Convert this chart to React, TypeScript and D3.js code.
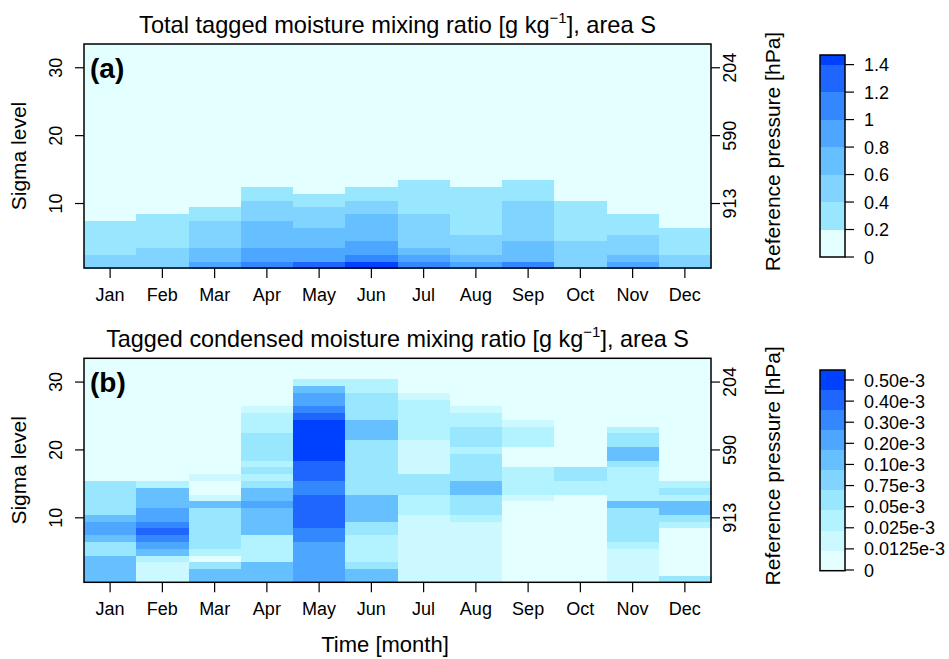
import React from "react";
import * as d3 from "d3";

// months on the x axis
const months = ["Jan", "Feb", "Mar", "Apr", "May", "Jun", "Jul", "Aug", "Sep", "Oct", "Nov", "Dec"];
const nLevels = 33;

// right axis: sigma level -> reference pressure
const pressureLevels = [10, 20, 30];
const pressureLabels = ["913", "590", "204"];

// (a) total tagged moisture [g/kg], sigma level 1 upwards (missing = 0)
const totJan = [0.52, 0.48, 0.33, 0.31, 0.3, 0.28, 0.25];
const totFeb = [0.55, 0.5, 0.45, 0.35, 0.32, 0.3, 0.28, 0.24];
const totMar = [0.92, 0.75, 0.7, 0.55, 0.52, 0.48, 0.45, 0.35, 0.3];
const totApr = [1.1, 0.95, 0.9, 0.75, 0.72, 0.68, 0.65, 0.55, 0.5, 0.45, 0.35, 0.3];
const totMay = [1.32, 0.95, 0.88, 0.75, 0.7, 0.65, 0.55, 0.5, 0.45, 0.35, 0.3];
const totJun = [1.45, 1.1, 0.92, 0.85, 0.75, 0.72, 0.68, 0.65, 0.55, 0.45, 0.35, 0.3];
const totJul = [1.1, 0.9, 0.7, 0.55, 0.52, 0.5, 0.48, 0.45, 0.38, 0.35, 0.32, 0.3, 0.25];
const totAug = [0.9, 0.7, 0.55, 0.5, 0.45, 0.38, 0.35, 0.33, 0.32, 0.3, 0.28, 0.25];
const totSep = [1.1, 0.75, 0.7, 0.65, 0.55, 0.52, 0.5, 0.48, 0.45, 0.42, 0.35, 0.3, 0.25];
const totOct = [0.55, 0.52, 0.5, 0.45, 0.38, 0.35, 0.33, 0.3, 0.28, 0.25];
const totNov = [0.9, 0.7, 0.55, 0.5, 0.45, 0.35, 0.3, 0.25];
const totDec = [0.5, 0.45, 0.38, 0.35, 0.3, 0.25];

// (b) tagged condensed moisture [1e-3 g/kg]
const conJan = [0.15, 0.15, 0.14, 0.13, 0.06, 0.06, 0.12, 0.25, 0.26, 0.15, 0.07, 0.065, 0.06, 0.06, 0.055];
const conFeb = [0.02, 0.018, 0.02, 0.04, 0.15, 0.25, 0.35, 0.45, 0.35, 0.26, 0.24, 0.15, 0.14, 0.13, 0.035];
const conMar = [0.15, 0.14, 0.06, 0.008, 0.04, 0.065, 0.06, 0.06, 0.062, 0.065, 0.06, 0.14, 0.02, 0.006, 0.007, 0.018];
const conApr = [
  0.15, 0.16, 0.14, 0.035, 0.04, 0.04, 0.045, 0.13, 0.15, 0.14, 0.16, 0.22, 0.15, 0.13, 0.06, 0.04,
  0.06, 0.04, 0.065, 0.06, 0.06, 0.055, 0.04, 0.035, 0.03, 0.02,
];
const conMay = [
  0.25, 0.26, 0.27, 0.25, 0.24, 0.25, 0.32, 0.35, 0.45, 0.44, 0.46, 0.45, 0.42, 0.35, 0.38, 0.42,
  0.44, 0.45, 0.55, 0.56, 0.58, 0.55, 0.53, 0.52, 0.45, 0.35, 0.25, 0.22, 0.15, 0.04,
];
const conJun = [
  0.15, 0.14, 0.06, 0.04, 0.035, 0.04, 0.04, 0.06, 0.065, 0.14, 0.15, 0.13, 0.12, 0.06, 0.06, 0.065,
  0.06, 0.06, 0.055, 0.06, 0.06, 0.12, 0.15, 0.13, 0.065, 0.06, 0.06, 0.055, 0.04, 0.035,
];
const conJul = [
  0.02, 0.02, 0.018, 0.02, 0.02, 0.018, 0.02, 0.02, 0.02, 0.02, 0.035, 0.04, 0.04, 0.06, 0.06, 0.055,
  0.02, 0.018, 0.02, 0.02, 0.018, 0.035, 0.04, 0.04, 0.035, 0.035, 0.03, 0.015,
];
const conAug = [
  0.02, 0.02, 0.018, 0.02, 0.02, 0.02, 0.018, 0.02, 0.02, 0.04, 0.06, 0.065, 0.06, 0.13, 0.14, 0.06,
  0.065, 0.06, 0.055, 0.04, 0.06, 0.06, 0.055, 0.04, 0.035, 0.02,
];
const conSep = [
  0.008, 0.007, 0.008, 0.007, 0.006, 0.007, 0.008, 0.009, 0.01, 0.009, 0.008, 0.01, 0.02, 0.035, 0.04,
  0.04, 0.035, 0.01, 0.008, 0.009, 0.035, 0.04, 0.035, 0.018,
];
const conOct = [0.006, 0.007, 0.008, 0.007, 0.006, 0.006, 0.007, 0.008, 0.009, 0.01, 0.011, 0.011, 0.01, 0.04, 0.04, 0.06, 0.055];
const conNov = [
  0.02, 0.018, 0.02, 0.02, 0.02, 0.04, 0.06, 0.065, 0.06, 0.06, 0.055, 0.15, 0.04, 0.035, 0.04, 0.04,
  0.035, 0.06, 0.14, 0.15, 0.06, 0.055, 0.035,
];
const conDec = [0.06, 0.01, 0.009, 0.008, 0.008, 0.007, 0.008, 0.009, 0.035, 0.06, 0.14, 0.15, 0.04, 0.06, 0.035];

const totalProfiles = [totJan, totFeb, totMar, totApr, totMay, totJun, totJul, totAug, totSep, totOct, totNov, totDec];
const condProfiles = [conJan, conFeb, conMar, conApr, conMay, conJun, conJul, conAug, conSep, conOct, conNov, conDec];

// colour classes
const totalBreaks = [0.2, 0.4, 0.6, 0.8, 1.0, 1.2, 1.4];
const totalMax = 1.47;
const totalTicks = [0, 0.2, 0.4, 0.6, 0.8, 1.0, 1.2, 1.4];
const totalTickLabels = ["0", "0.2", "0.4", "0.6", "0.8", "1", "1.2", "1.4"];
const totalColors = ["#E4FFFF", "#99E6FF", "#80D4FF", "#66BFFF", "#4DA6FF", "#3388FF", "#1F66FF", "#0040FF"];

const condBreaks = [0.0125, 0.025, 0.05, 0.075, 0.1, 0.2, 0.3, 0.4, 0.5];
const condTickLabels = ["0", "0.0125e-3", "0.025e-3", "0.05e-3", "0.75e-3", "0.10e-3", "0.20e-3", "0.30e-3", "0.40e-3", "0.50e-3"];
const condColors = [
  "#E4FFFF", "#CCF9FF", "#B3F2FF", "#99E6FF", "#80D4FF", "#66BFFF", "#4DA6FF", "#3388FF", "#1F66FF", "#0040FF",
];

const FONT = "'Liberation Sans', Arial, Helvetica, sans-serif";
const left = 84, right = 711, boxH = 224;
const x = d3.scaleLinear().domain([0.5, 12.5]).range([left, right]);

type PanelProps = {
  top: number;
  title: string;
  titleSize: number;
  tag: string;
  profiles: number[][];
  color: (v: number) => string;
  legend: React.ReactNode;
};

const Panel = ({ top, title, titleSize, tag, profiles, color, legend }: PanelProps) => {
  const y = d3.scaleLinear().domain([0.5, nLevels + 0.5]).range([top + boxH, top]);
  const levels = d3.range(1, nLevels + 1);
  const cells: React.ReactNode[] = [];
  profiles.forEach((prof, mi) => {
    levels.forEach((lev) => {
      const v = lev <= prof.length ? prof[lev - 1] : 0;
      cells.push(
        <rect
          key={`${mi}-${lev}`}
          x={x(mi + 0.5)}
          y={y(lev + 0.5)}
          width={x(mi + 1.5) - x(mi + 0.5) + 0.5}
          height={y(lev - 0.5) - y(lev + 0.5) + 0.5}
          fill={color(v)}
        />
      );
    });
  });
  const bottom = top + boxH;
  const cx = (left + right) / 2;
  return (
    <g>
      <g shapeRendering="crispEdges">{cells}</g>
      <rect x={left} y={top} width={right - left} height={boxH} fill="none" stroke="#000" strokeWidth={1.5} />
      <text x={cx} y={top - 11.5} textAnchor="middle" fontSize={titleSize}>
        {title} [g kg
        <tspan dy={-10} fontSize={15}>
          −1
        </tspan>
        <tspan dy={10}>], area S</tspan>
      </text>
      <text x={left + 6} y={top + 34} fontSize={28} fontWeight="bold">
        {tag}
      </text>
      {/* bottom axis */}
      {months.map((m, i) => (
        <g key={m}>
          <line x1={x(i + 1)} x2={x(i + 1)} y1={bottom} y2={bottom + 10} stroke="#000" strokeWidth={1.2} />
          <text x={x(i + 1)} y={bottom + 32.5} textAnchor="middle" fontSize={18}>
            {m}
          </text>
        </g>
      ))}
      {/* left axis */}
      {[10, 20, 30].map((t) => (
        <g key={t}>
          <line x1={left} x2={left - 9} y1={y(t)} y2={y(t)} stroke="#000" strokeWidth={1.2} />
          <text transform={`translate(61.5,${y(t)}) rotate(-90)`} textAnchor="middle" fontSize={18}>
            {t}
          </text>
        </g>
      ))}
      <text transform={`translate(26,${top + boxH / 2}) rotate(-90)`} textAnchor="middle" fontSize={21}>
        Sigma level
      </text>
      {/* right axis */}
      {pressureLevels.map((t, i) => (
        <g key={t}>
          <line x1={right} x2={right + 9} y1={y(t)} y2={y(t)} stroke="#000" strokeWidth={1.2} />
          <text transform={`translate(735.5,${y(t)}) rotate(-90)`} textAnchor="middle" fontSize={18}>
            {pressureLabels[i]}
          </text>
        </g>
      ))}
      <text transform={`translate(780,${top + 107.5}) rotate(-90)`} textAnchor="middle" fontSize={21}>
        Reference pressure [hPa]
      </text>
      {legend}
    </g>
  );
};

const TotalLegend = () => {
  const s = d3.scaleLinear().domain([0, totalMax]).range([257, 55]);
  const edges = [0, ...totalBreaks, totalMax];
  return (
    <g>
      <g shapeRendering="crispEdges">
        {totalColors.map((c, i) => (
          <rect key={c} x={820} y={s(edges[i + 1])} width={25} height={s(edges[i]) - s(edges[i + 1])} fill={c} />
        ))}
      </g>
      <rect x={820} y={55} width={25} height={202} fill="none" stroke="#000" strokeWidth={1.5} />
      {totalTicks.map((t, i) => (
        <g key={t}>
          <line x1={845} x2={854} y1={s(t)} y2={s(t)} stroke="#000" strokeWidth={1.2} />
          <text x={864} y={s(t) + 6.5} fontSize={18}>
            {totalTickLabels[i]}
          </text>
        </g>
      ))}
    </g>
  );
};

const CondLegend = () => {
  const band = d3.scaleLinear().domain([0, condColors.length]).range([570.7, 370]);
  const tick = d3.scaleLinear().domain([0, 9]).range([570, 380]);
  return (
    <g>
      <g shapeRendering="crispEdges">
        {condColors.map((c, i) => (
          <rect key={c} x={820} y={band(i + 1)} width={25} height={band(i) - band(i + 1)} fill={c} />
        ))}
      </g>
      <rect x={820} y={370} width={25} height={200.7} fill="none" stroke="#000" strokeWidth={1.5} />
      {condTickLabels.map((l, i) => (
        <g key={l}>
          <line x1={845} x2={854} y1={tick(i)} y2={tick(i)} stroke="#000" strokeWidth={1.2} />
          <text x={864} y={tick(i) + 6.5} fontSize={18}>
            {l}
          </text>
        </g>
      ))}
    </g>
  );
};

export default function App() {
  const totalColor = d3.scaleThreshold<number, string>().domain(totalBreaks).range(totalColors);
  const condColor = d3.scaleThreshold<number, string>().domain(condBreaks).range(condColors);
  return (
    <svg width={949} height={659} style={{ position: "absolute", left: 0, top: 0, background: "#fff" }} fontFamily={FONT}>
      <rect width={949} height={659} fill="#fff" />
      <Panel
        top={44}
        title="Total tagged moisture mixing ratio"
        titleSize={23.6}
        tag="(a)"
        profiles={totalProfiles}
        color={(v) => totalColor(v)}
        legend={<TotalLegend />}
      />
      <Panel
        top={358.3}
        title="Tagged condensed moisture mixing ratio"
        titleSize={23.4}
        tag="(b)"
        profiles={condProfiles}
        color={(v) => condColor(v)}
        legend={<CondLegend />}
      />
      <text x={385} y={651.5} textAnchor="middle" fontSize={22}>
        Time [month]
      </text>
    </svg>
  );
}
